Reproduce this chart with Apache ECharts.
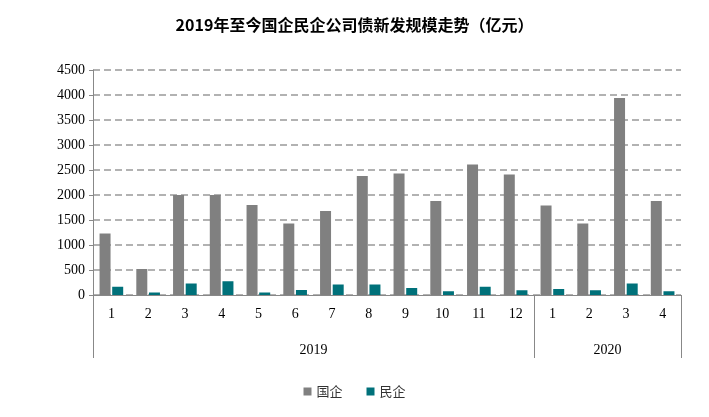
<!DOCTYPE html>
<html><head><meta charset="utf-8">
<script src="https://cdn.jsdelivr.net/npm/echarts@6/dist/echarts.min.js"></script>
<style>html,body{margin:0;padding:0;background:#fff}#c{width:709px;height:417px}</style>
</head><body><div id="c"></div>
<script>
const months = ['1','2','3','4','5','6','7','8','9','10','11','12','1','2','3','4'];
const guoqi = [1230,520,2000,2000,1800,1430,1680,2380,2430,1880,2610,2410,1790,1430,3940,1880];
const minqi = [165,50,230,275,50,100,210,210,140,75,165,95,120,95,230,75];
const yearLabels = {6:'2019',14:'2020'};
const font = 'Liberation Serif';
const chart = echarts.init(document.getElementById('c'));
chart.setOption({
  animation:false,
  title:{text:'2019年至今国企民企公司债新发规模走势（亿元）',left:'center',top:12,
    textStyle:{fontFamily:'Noto Sans CJK SC',fontSize:16,fontWeight:'bold',color:'#000'}},
  grid:{left:93,right:28,top:70,bottom:122},
  legend:{bottom:14,left:'center',itemWidth:8,itemHeight:8,itemGap:24,
    textStyle:{fontFamily:'Noto Sans CJK SC',fontSize:13,color:'#333'},
    data:[{name:'国企',icon:'rect'},{name:'民企',icon:'rect'}]},
  xAxis:[{type:'category',data:months,position:'bottom',
    axisLine:{lineStyle:{color:'#888'}},
    axisTick:{interval:0,length:34,lineStyle:{color:'#888'}},
    axisLabel:{interval:0,margin:12,fontFamily:font,fontSize:14,color:'#000'}},
   {type:'value',min:0,max:16,position:'bottom',
    axisLine:{show:false},splitLine:{show:false},
    axisTick:{show:true,customValues:[0,12,16],length:63,lineStyle:{color:'#888'}},
    axisLabel:{customValues:[6,14],margin:48,formatter:v=>yearLabels[v]||'',fontFamily:font,fontSize:14,color:'#000'}}],
  yAxis:{type:'value',min:0,max:4500,interval:500,
    axisLine:{show:true,lineStyle:{color:'#888'}},
    axisTick:{show:true,inside:false,length:4,lineStyle:{color:'#888'}},
    axisLabel:{fontFamily:font,fontSize:14,color:'#000',margin:8,formatter:v=>String(v)},
    splitLine:{lineStyle:{color:'#999',type:[7,4],width:1.5}}},
  series:[
    {name:'国企',type:'bar',data:guoqi,barWidth:11,barGap:'15%',itemStyle:{color:'#808080'}},
    {name:'民企',type:'bar',data:minqi,barWidth:11,itemStyle:{color:'#00717a'}}
  ]
});
</script></body></html>
